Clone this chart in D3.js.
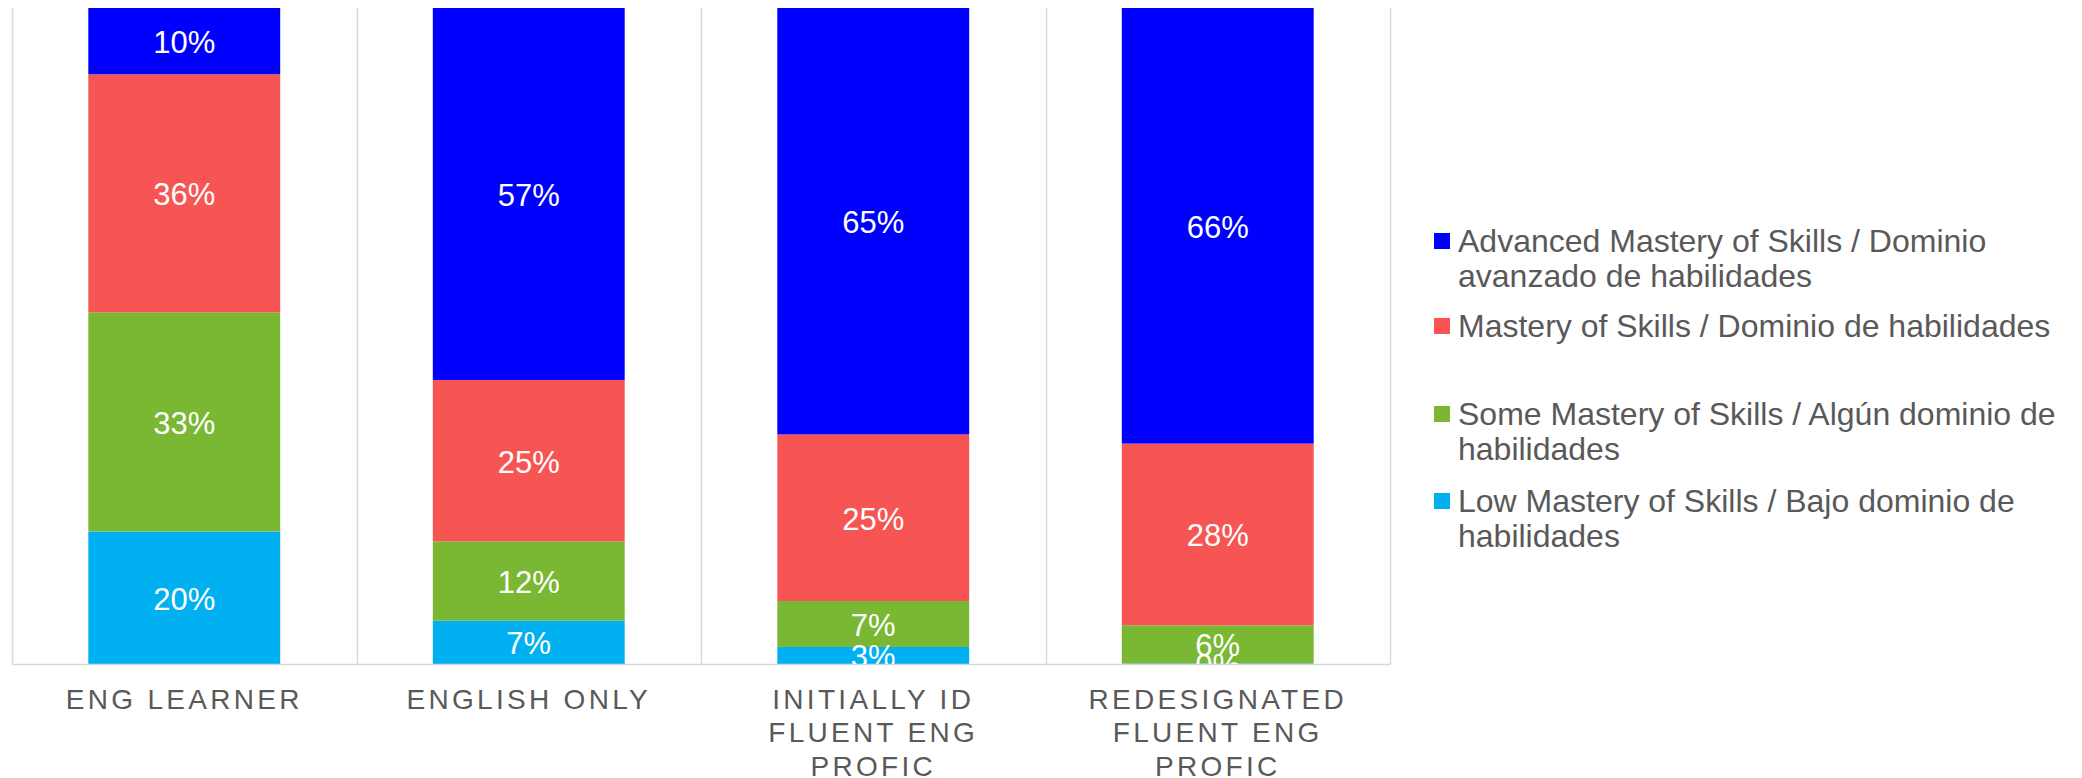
<!DOCTYPE html>
<html>
<head>
<meta charset="utf-8">
<script src="https://cdn.jsdelivr.net/npm/d3@7"></script>
<style>
  body { margin: 0; background: #fff; }
  svg { display: block; font-family: "Liberation Sans", Arial, sans-serif; }
</style>
</head>
<body>
<div class="chart"></div>
<script>
// categories, with the wrapped tick label lines
const categories = ["ENG LEARNER", "ENGLISH ONLY", "INITIALLY ID FLUENT ENG PROFIC", "REDESIGNATED FLUENT ENG PROFIC"];
const tickLines = [["ENG LEARNER"], ["ENGLISH ONLY"], ["INITIALLY ID", "FLUENT ENG", "PROFIC"], ["REDESIGNATED", "FLUENT ENG", "PROFIC"]];

// series values (percent of students), bottom to top
const low      = [20.2, 6.6, 2.6, 0.1];
const some     = [33.4, 12.1, 7.0, 5.8];
const mastery  = [36.3, 24.6, 25.4, 27.7];
const advanced = [10.1, 56.7, 65.0, 66.4];

const seriesKeys = ["low", "some", "mastery", "advanced"];
const seriesColors = ["#00B0F0", "#7AB733", "#F75454", "#0000FF"];

// legend, top to bottom
const legendLines = [
  ["Advanced Mastery of Skills / Dominio", "avanzado de habilidades"],
  ["Mastery of Skills / Dominio de habilidades"],
  ["Some Mastery of Skills / Algún dominio de", "habilidades"],
  ["Low Mastery of Skills / Bajo dominio de", "habilidades"]
];
const legendColors = ["#0000FF", "#F75454", "#7AB733", "#00B0F0"];

(function(){
    const svgWidth = 2082, svgHeight = 778;
    const plot = { left: 12, right: 1390, top: 8, bottom: 664 };

    const svg = d3.select(".chart")
        .append("svg")
        .attr("width", svgWidth)
        .attr("height", svgHeight);

    const rows = categories.map((c, i) => ({
        cat: c, low: low[i], some: some[i], mastery: mastery[i], advanced: advanced[i]
    }));

    const stacked = d3.stack()
        .keys(seriesKeys)
        .offset(d3.stackOffsetExpand)(rows);

    const x = d3.scaleBand()
        .domain(categories)
        .range([plot.left, plot.right])
        .paddingInner(0.443)
        .paddingOuter(0.2215);

    const y = d3.scaleLinear()
        .domain([0, 1])
        .range([plot.bottom, plot.top]);

    // vertical gridlines between categories
    const bounds = categories.map(c => x(c) - x.step() * x.paddingInner() / 2);
    bounds.push(plot.right);
    bounds[0] = plot.left;
    svg.append("g")
        .selectAll("line")
        .data(bounds)
        .enter()
        .append("line")
        .attr("x1", d => Math.round(d) + 0.5)
        .attr("x2", d => Math.round(d) + 0.5)
        .attr("y1", plot.top)
        .attr("y2", plot.bottom)
        .attr("stroke", "#D9D9D9")
        .attr("stroke-width", 1.5);

    // bars
    const layers = svg.append("g")
        .selectAll("g")
        .data(stacked)
        .enter()
        .append("g")
        .attr("fill", (d, i) => seriesColors[i]);

    layers.selectAll("rect")
        .data(d => d)
        .enter()
        .append("rect")
        .attr("x", d => x(d.data.cat))
        .attr("width", x.bandwidth())
        .attr("y", d => y(d[1]))
        .attr("height", d => y(d[0]) - y(d[1]));

    // x axis line
    svg.append("line")
        .attr("x1", plot.left)
        .attr("x2", plot.right + 1)
        .attr("y1", plot.bottom + 0.5)
        .attr("y2", plot.bottom + 0.5)
        .attr("stroke", "#D9D9D9")
        .attr("stroke-width", 1.5);

    // value labels, clipped to the plot area
    svg.append("clipPath")
        .attr("id", "plotClip")
        .append("rect")
        .attr("x", plot.left)
        .attr("y", plot.top)
        .attr("width", plot.right - plot.left)
        .attr("height", plot.bottom - plot.top);

    const labels = svg.append("g").attr("clip-path", "url(#plotClip)");
    stacked.forEach(layer => {
        labels.selectAll(null)
            .data(layer)
            .enter()
            .append("text")
            .attr("x", d => x(d.data.cat) + x.bandwidth() / 2)
            .attr("y", d => y((d[0] + d[1]) / 2) + 12)
            .attr("text-anchor", "middle")
            .attr("fill", "#fff")
            .style("font-size", "31px")
            .text(d => Math.round((d[1] - d[0]) * 100) + "%");
    });

    // category labels
    const ls = 3.3;
    const ticks = svg.append("g")
        .selectAll("text")
        .data(tickLines)
        .enter()
        .append("text")
        .attr("text-anchor", "middle")
        .attr("fill", "#595959")
        .style("font-size", "28px")
        .style("letter-spacing", ls + "px");
    ticks.each(function(lines, i) {
        const t = d3.select(this);
        const cx = x(categories[i]) + x.bandwidth() / 2;
        lines.forEach((line, j) => {
            t.append("tspan")
                .attr("x", cx)
                .attr("y", 709 + j * 33.3)
                .text(line);
        });
    });

    // legend
    const legendTop = [252, 337, 425, 512];
    const legend = svg.append("g")
        .selectAll("g")
        .data(legendLines)
        .enter()
        .append("g")
        .attr("transform", (d, i) => `translate(1434, ${legendTop[i]})`);

    legend.append("rect")
        .attr("x", 0)
        .attr("y", -19)
        .attr("width", 16)
        .attr("height", 16)
        .attr("fill", (d, i) => legendColors[i]);

    legend.append("text")
        .attr("fill", "#595959")
        .style("font-size", "32px")
        .selectAll("tspan")
        .data(d => d)
        .enter()
        .append("tspan")
        .attr("x", 24)
        .attr("y", (d, j) => j * 35)
        .text(d => d);
})()
</script>
</body>
</html>
